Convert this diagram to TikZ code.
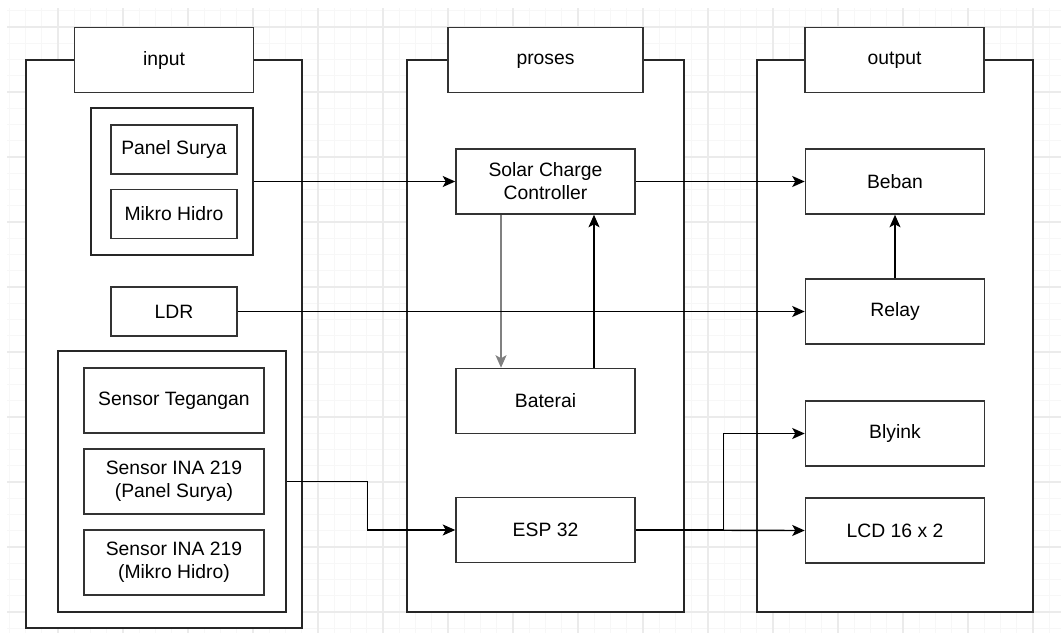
\documentclass[tikz,border=0pt]{standalone}
\usepackage{fontspec}
\setmainfont{Liberation Sans}
\usetikzlibrary{arrows.meta,positioning}

\begin{document}
\begin{tikzpicture}[
  x=0.02cm, y=-0.02cm,
  font=\fontsize{11}{13}\selectfont,
  >={Stealth[length=0.25cm,width=0.22cm,inset=0.06cm]},
  box/.style={
    draw=black!80, line width=0.9pt, fill=white, inner sep=0pt,
    align=center, minimum width=3.58cm, minimum height=1.3cm
  },
  sbox/.style={box, minimum width=2.52cm, minimum height=0.98cm},
  frame/.style={draw=black!85, line width=0.9pt, fill=white, inner sep=0pt},
  arrow/.style={->, line width=0.8pt, #1},
  arrow/.default=black,
  minor/.style={draw=black!3, line width=0.5pt},
  major/.style={draw=black!8, line width=0.6pt}
]
\useasboundingbox (0,0) rectangle (1061,633);

% ── Canvas grid ─────────────────────────────────────────────────────────────
\begin{scope}
  \clip (7,8) rectangle (1061,633);
  \foreach \gx in {-7,9.25,...,1070} \draw[minor] (\gx,8) -- (\gx,633);
  \foreach \gy in {10.75,27,...,640} \draw[minor] (7,\gy) -- (1061,\gy);
  \foreach \gx in {-7,58,...,1070} \draw[major] (\gx,8) -- (\gx,633);
  \foreach \gy in {27,92,...,640} \draw[major] (7,\gy) -- (1061,\gy);
\end{scope}

% ── Column frames ───────────────────────────────────────────────────────────
\node[frame, minimum width=5.52cm, minimum height=11.36cm] (inframe)  at (164,344)   {};
\node[frame, minimum width=5.54cm, minimum height=11.04cm] (proframe) at (545.5,336) {};
\node[frame, minimum width=5.52cm, minimum height=11.04cm] (outframe) at (895,336)   {};

\node[box] (inhead) at (164,60) {input};
\node[box, minimum width=3.9cm] (prohead) at (545.5,60) {\strut proses};
\node[box] (outhead) at (894.5,60) {\strut output};

% ── Input column ────────────────────────────────────────────────────────────
\node[frame, minimum width=3.24cm, minimum height=2.94cm] (pvgrp) at (172,181.5) {};
\node[sbox] (panel) at (174,149.5) {Panel Surya};
\node[sbox] (mikro) at (174,214)   {Mikro Hidro};
\node[sbox] (ldr)   at (174,311.5) {LDR};

\node[frame, minimum width=4.56cm, minimum height=5.22cm] (sensgrp) at (172,481.5) {};
\node[box, minimum width=3.6cm] (tegangan) at (174,400.5) {Sensor Tegangan};
\node[box, minimum width=3.6cm] (inapv)    at (174,481.5) {Sensor INA 219\\(Panel Surya)};
\node[box, minimum width=3.6cm] (inamh)    at (174,562.5) {Sensor INA 219\\(Mikro Hidro)};

% ── Proses column ───────────────────────────────────────────────────────────
\node[box] (scc) at (545.5,181.5) {Solar Charge\\Controller};
\node[box] (bat) at (545.5,401)   {Baterai};
\node[box] (esp) at (545.5,530)   {ESP 32};

% ── Output column ───────────────────────────────────────────────────────────
\node[box] (beban)  at (895,181.5) {Beban};
\node[box] (relay)  at (895,311.5) {Relay};
\node[box] (blyink) at (895,433.5) {Blyink};
\node[box] (lcd)    at (895,530.5) {LCD 16 x 2};

% ── Arrows ──────────────────────────────────────────────────────────────────
\draw[arrow] (pvgrp.east) -- (scc.west);
\draw[arrow] (scc.east) -- (beban.west);
\draw[arrow=black!50] ([xshift=-0.89cm]scc.south) -- ([xshift=-0.89cm]bat.north);
\draw[arrow] ([xshift=0.97cm]bat.north) -- ([xshift=0.97cm]scc.south);
\draw[arrow] (ldr.east) -- (relay.west);
\draw[arrow] (relay.north) -- (beban.south);
\draw[arrow] (sensgrp.east) -- ++(81,0) |- (esp.west);
\draw[arrow] (esp.east) -- (lcd.west);
\draw[arrow] (esp.east) -- ++(88,0) |- (blyink.west);

\end{tikzpicture}
\end{document}
